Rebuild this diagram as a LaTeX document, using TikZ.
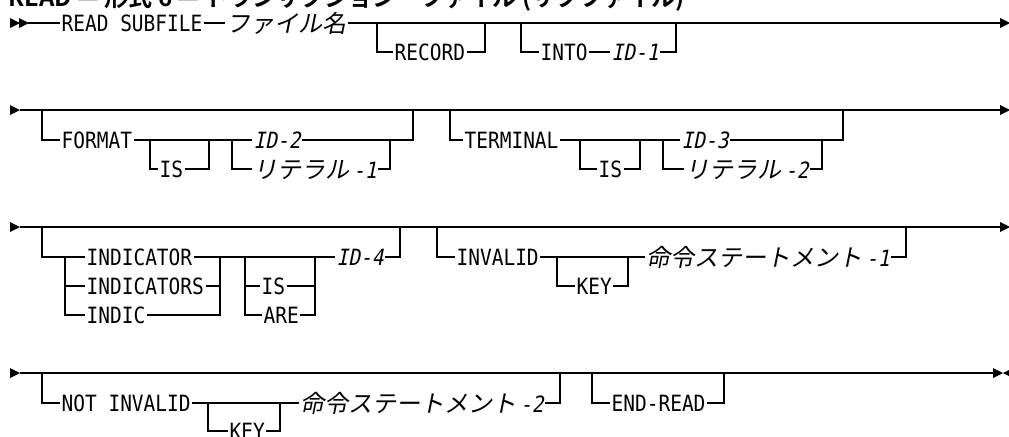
\documentclass[tikz,border=0pt]{standalone}
\usepackage{fontspec}
\newfontfamily\kwfont{DejaVu Sans Mono}[FakeStretch=0.87]
\newfontfamily\varfont{DejaVu Sans Mono}[FakeStretch=0.87,FakeSlant=0.2]
\newfontfamily\jpfont{Noto Sans CJK JP}[FakeSlant=0.2]
\newfontfamily\titlefont{Noto Sans CJK JP}[UprightFont=* Bold]
\newcommand{\kwsize}{\fontsize{16.8pt}{18pt}\selectfont}
\newcommand{\vsuffix}[1]{\kern2.6pt{\varfont\kwsize #1}}
% filled rail tips, pointing right / left
\newcommand{\railtip}[2]{\fill (#1,#2-5) -- ++(10,5) -- ++(-10,5) -- cycle;}
\newcommand{\railback}[2]{\fill (#1+10,#2-5) -- ++(-10,5) -- ++(10,5) -- cycle;}

\begin{document}
\begin{tikzpicture}[x=0.75pt, y=-0.75pt]
    \tikzstyle{kw} = [anchor=base west, inner xsep=1pt, inner ysep=0pt, font=\kwfont\kwsize]
    \tikzstyle{var} = [kw, font=\varfont\kwsize]
    \tikzstyle{jp} = [kw, font=\jpfont\fontsize{18pt}{20pt}\selectfont]
    \tikzstyle{title} = [anchor=base west, inner sep=0pt, font=\titlefont\fontsize{18pt}{20pt}\selectfont]
    \tikzstyle{rail} = [line width=0.9pt]

    \useasboundingbox (0,0) rectangle (1009,436);
    \clip (0,0) rectangle (1009,436);

    \node [title] (title) at (8,6) {READ — 形式 6 — トランザクション・ファイル (サブファイル)};

    % row 1
    \coordinate (r1) at (0,23);
    \coordinate (b1) at (0,52);
    \railtip{10}{23}
    \railtip{19}{23}
    \node [kw] (read) at (60,31) {READ SUBFILE};
    \node [jp] (fname) at (225,32) {ファイル名};
    \node [kw] (record) at (393,60) {RECORD};
    \node [kw] (into) at (539,60) {INTO};
    \node [var] (id1) at (610,60) {ID-1};

    \draw [rail] (28,23) -- (read.west |- r1);
    \draw [rail] (read.east |- r1) -- (fname.west |- r1);
    \draw [rail] (fname.east |- r1) -- (1001,23);
    \draw [rail] (377,23) |- (record.west |- b1);
    \draw [rail] (record.east |- b1) -| (485,23);
    \draw [rail] (521,23) |- (into.west |- b1);
    \draw [rail] (into.east |- b1) -- (id1.west |- b1);
    \draw [rail] (id1.east |- b1) -| (676,23);
    \railtip{1000}{23}

    % row 2
    \coordinate (r2) at (0,110);
    \coordinate (c1) at (0,140);
    \coordinate (c2) at (0,169);
    \railtip{10}{110}
    \node [kw] (format) at (60,148) {FORMAT};
    \node [kw] (is1) at (158,177) {IS};
    \node [var] (id2) at (252,148) {ID-2};
    \node [jp] (lit1) at (252,178) {リテラル\vsuffix{-1}};
    \node [kw] (terminal) at (463,148) {TERMINAL};
    \node [kw] (is2) at (597,177) {IS};
    \node [var] (id3) at (680,148) {ID-3};
    \node [jp] (lit2) at (684,178) {リテラル\vsuffix{-2}};

    \draw [rail] (20,110) -- (1001,110);
    \draw [rail] (42,110) |- (format.west |- c1);
    \draw [rail] (format.east |- c1) -- (id2.west |- c1);
    \draw [rail] (150,140) |- (is1.west |- c2);
    \draw [rail] (is1.east |- c2) -| (209,140);
    \draw [rail] (232,140) |- (lit1.west |- c2);
    \draw [rail] (lit1.east |- c2) -| (390,140);
    \draw [rail] (id2.east |- c1) -| (413,110);
    \draw [rail] (450,110) |- (terminal.west |- c1);
    \draw [rail] (terminal.east |- c1) -- (id3.west |- c1);
    \draw [rail] (580,140) |- (is2.west |- c2);
    \draw [rail] (is2.east |- c2) -| (640,140);
    \draw [rail] (663,140) |- (lit2.west |- c2);
    \draw [rail] (lit2.east |- c2) -| (822,140);
    \draw [rail] (id3.east |- c1) -| (843,110);
    \railtip{1000}{110}

    % row 3
    \coordinate (r3) at (0,227);
    \coordinate (d1) at (0,257);
    \coordinate (d2) at (0,286);
    \coordinate (d3) at (0,315);
    \railtip{10}{227}
    \node [kw] (indicator) at (85,265) {INDICATOR};
    \node [kw] (indicators) at (85,294) {INDICATORS};
    \node [kw] (indic) at (85,323) {INDIC};
    \node [kw] (is3) at (260,294) {IS};
    \node [kw] (are) at (262,323) {ARE};
    \node [var] (id4) at (335,265) {ID-4};
    \node [kw] (invalid) at (455,265) {INVALID};
    \node [kw] (key1) at (575,294) {KEY};
    \node [jp] (stmt1) at (645,266) {命令ステートメント\vsuffix{-1}};

    \draw [rail] (20,227) -- (1001,227);
    \draw [rail] (42,227) |- (indicator.west |- d1);
    \draw [rail] (65,257) |- (indicators.west |- d2);
    \draw [rail] (65,257) |- (indic.west |- d3);
    \draw [rail] (indicator.east |- d1) -- (id4.west |- d1);
    \draw [rail] (indicators.east |- d2) -| (220,257);
    \draw [rail] (indic.east |- d3) -| (220,257);
    \draw [rail] (245,257) |- (is3.west |- d2);
    \draw [rail] (245,257) |- (are.west |- d3);
    \draw [rail] (is3.east |- d2) -| (315,257);
    \draw [rail] (are.east |- d3) -| (315,257);
    \draw [rail] (id4.east |- d1) -| (400,227);
    \draw [rail] (437,227) |- (invalid.west |- d1);
    \draw [rail] (invalid.east |- d1) -- (stmt1.west |- d1);
    \draw [rail] (557,257) |- (key1.west |- d2);
    \draw [rail] (key1.east |- d2) -| (628,257);
    \draw [rail] (stmt1.east |- d1) -| (906,227);
    \railtip{1000}{227}

    % row 4
    \coordinate (r4) at (0,373);
    \coordinate (e1) at (0,403);
    \coordinate (e2) at (0,431);
    \railtip{10}{373}
    \node [kw] (notinv) at (60,411) {NOT INVALID};
    \node [kw] (key2) at (228,439) {KEY};
    \node [jp] (stmt2) at (299,412) {命令ステートメント\vsuffix{-2}};
    \node [kw] (endread) at (610,411) {END-READ};

    \draw [rail] (20,373) -- (994,373);
    \draw [rail] (42,373) |- (notinv.west |- e1);
    \draw [rail] (notinv.east |- e1) -- (stmt2.west |- e1);
    \draw [rail] (208,403) |- (key2.west |- e2);
    \draw [rail] (key2.east |- e2) -| (280,403);
    \draw [rail] (stmt2.east |- e1) -| (560,373);
    \draw [rail] (592,373) |- (endread.west |- e1);
    \draw [rail] (endread.east |- e1) -| (724,373);
    \draw [line width=1.6pt] (730,373) -- (753,373);
    \railtip{993}{373}
    \railback{1003}{373}
\end{tikzpicture}
\end{document}
